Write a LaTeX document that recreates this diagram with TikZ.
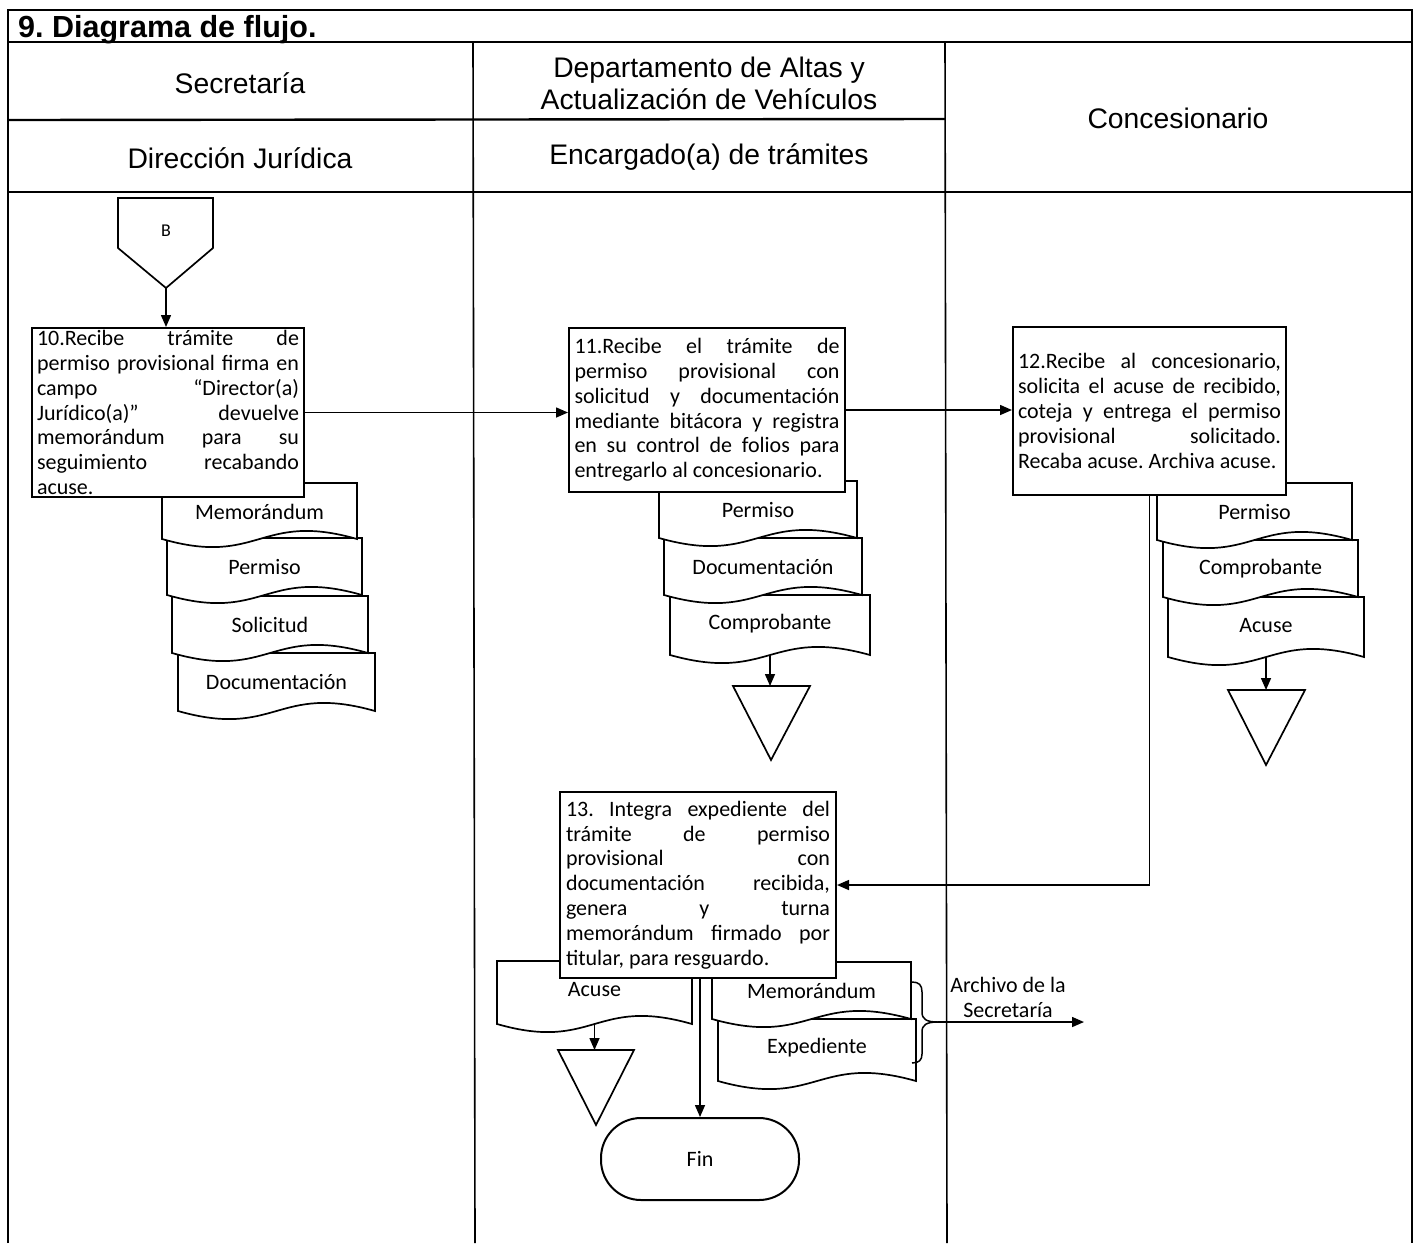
\documentclass[tikz,border=0pt]{standalone}
\usepackage{fontspec}
\setmainfont{Carlito}
\newfontfamily\hfont{Liberation Sans}
\usetikzlibrary{arrows.meta,calc}
\frenchspacing

\newcommand\docshape[6]{% name, x0, ytop, w, h, label
  \draw[docline] ({#2},{#3}) -- ({#2+#4},{#3}) -- ({#2+#4},{#3+#5})
    .. controls ({#2+0.5*#4},{#3+#5-28}) and ({#2+0.5*#4},{#3+#5+28}) .. ({#2},{#3+#5}) -- cycle;
  \node[doclabel] (#1) at ({#2+0.5*#4},{#3+29}) {#6};
  \coordinate (#1-b) at ({#2+0.5*#4},{#3+#5});
}

\begin{document}
\begin{tikzpicture}[x=1pt,y=-1pt,
  frame/.style={line width=2.4pt},
  lane/.style={line width=1.6pt},
  box/.style={draw, line width=2pt, fill=white, inner sep=0pt, rectangle},
  boxtext/.style={inner sep=0pt, align=justify, font=\fontsize{22}{24.8}\selectfont},
  docline/.style={draw, fill=white, line width=1.7pt},
  doclabel/.style={inner sep=0pt, font=\fontsize{22}{26}\selectfont},
  shapeline/.style={draw, fill=white, line width=1.7pt},
  arr/.style={line width=1.5pt, -{Triangle[length=12pt,width=10pt]}},
  conn/.style={line width=1.5pt},
  hdr/.style={font=\hfont\fontsize{28.3}{32}\selectfont, align=center, inner sep=0pt},
]
\useasboundingbox (0,0) rectangle (1420,1243);

% ---------- frame ----------
\draw[frame] (8,1243) -- (8,10) -- (1412,10) -- (1412,1243);
\draw[frame] (8,42) -- (1412,42);
\draw[frame] (8,120) -- (945,119);
\draw[frame] (8,192) -- (1412,192);
\draw[lane] (473,42) -- (475,1243);
\draw[lane] (945,42) -- (947,1243);

\node[anchor=west, inner sep=0pt, font=\hfont\bfseries\fontsize{30.5}{32}\selectfont] (title) at (18,30) {9. Diagrama de flujo.};
\node[hdr] (h1) at (240,83) {Secretaría};
\node[hdr] (h2) at (709,83) {Departamento de Altas y\\Actualización de Vehículos};
\node[hdr] (h3) at (240,158) {Dirección Jurídica};
\node[hdr] (h4) at (709,157) {Encargado(a) de trámites};
\node[hdr] (h5) at (1178,118) {Concesionario};

% ---------- column 1 ----------
\draw[shapeline] (118,198) -- (213,198) -- (213,248) -- (166,288) -- (118,248) -- cycle;
\node[inner sep=0pt, font=\fontsize{18}{20}\selectfont] (B) at (166,231) {B};
\coordinate (Bp) at (166,288);

\docshape{d1d}{178}{653}{197}{58}{Documentación}
\docshape{d1c}{172}{596}{196}{57}{Solicitud}
\docshape{d1b}{167}{538}{195}{57}{Permiso}
\docshape{d1a}{162}{483}{195}{56}{Memorándum}

\node[box, minimum width=272pt, minimum height=169pt] (b10) at (168,412.5) {};
\node[boxtext, text width=262pt] (t10) at (b10.center) {10.Recibe trámite de\linebreak permiso provisional firma en\linebreak campo “Director(a)\linebreak Jurídico(a)” devuelve\linebreak memorándum para su\linebreak seguimiento recabando\linebreak acuse.};

\draw[arr] (Bp) -- (b10.north -| Bp);

% ---------- column 2 ----------
\docshape{d2c}{670}{595}{200}{60}{Comprobante}
\docshape{d2b}{664}{538}{198}{57}{Documentación}
\docshape{d2a}{659}{481}{198}{57}{Permiso}

\node[box, minimum width=276pt, minimum height=164pt] (b11) at (707,410) {};
\node[boxtext, text width=265pt] (t11) at (b11.center) {11.Recibe el trámite de\linebreak permiso provisional con\linebreak solicitud y documentación\linebreak mediante bitácora y registra\linebreak en su control de folios para\linebreak entregarlo al concesionario.};

\draw[shapeline] (733,686) -- (810,686) -- (771,760) -- cycle;
\coordinate (tr2) at (771,686);
\draw[arr] (d2c-b) -- (d2c-b |- tr2);

% ---------- column 3 ----------
\docshape{d3c}{1168}{597}{196}{60}{Acuse}
\docshape{d3b}{1163}{540}{195}{57}{Comprobante}
\docshape{d3a}{1157}{483}{195}{57}{Permiso}

\node[box, minimum width=273pt, minimum height=168pt] (b12) at (1149.5,411) {};
\node[boxtext, text width=263pt] (t12) at (b12.center) {12.Recibe al concesionario,\linebreak solicita el acuse de recibido,\linebreak coteja y entrega el permiso\linebreak provisional solicitado.\linebreak Recaba acuse. Archiva acuse.};

\draw[shapeline] (1228,690) -- (1305,690) -- (1266,765) -- cycle;
\coordinate (tr3) at (1266,690);
\draw[arr] (d3c-b) -- (d3c-b |- tr3);

% ---------- step 13 ----------
\docshape{d4a}{497}{961}{195}{63}{Acuse}
\docshape{d4c}{718}{1019}{198}{62}{Expediente}
\docshape{d4b}{712}{962}{199}{57}{Memorándum}

\node[box, minimum width=276pt, minimum height=186pt] (b13) at (698,885) {};
\node[boxtext, text width=264pt] (t13) at (b13.center) {13. Integra expediente del\linebreak trámite de permiso\linebreak provisional con\linebreak documentación recibida,\linebreak genera y turna\linebreak memorándum firmado por\linebreak titular, para resguardo.};

\draw[shapeline] (558,1050) -- (634,1050) -- (596,1125) -- cycle;
\coordinate (tr4) at (596,1050);
\draw[arr] (d4a-b) -- (d4a-b |- tr4);

\node[draw, line width=2pt, minimum width=198pt, minimum height=82pt, rounded corners=40pt, inner sep=0pt, font=\fontsize{22}{26}\selectfont] (fin) at (700,1159) {Fin};

% brace
\draw[conn] (912,982) .. controls (919,982) and (922,985) .. (922,992) -- (922,1012) .. controls (922,1019) and (926,1022) .. (938,1022);
\draw[conn] (938,1022) .. controls (926,1022) and (922,1025) .. (922,1032) -- (922,1054) .. controls (922,1060) and (919,1063) .. (912,1063);
\coordinate (brtip) at (938,1022);
\coordinate (archend) at (1084,1022);
\draw[arr] (brtip) -- (archend);
\node[inner sep=0pt, align=center, font=\fontsize{22}{25}\selectfont] (arch) at (1008,997) {Archivo de la\\Secretaría};

% ---------- connectors ----------
\draw[arr] (b10.east) -- (b11.west |- b10.east);
\draw[arr] (b11.east) -- (b12.west |- b11.east);
\draw[arr] (b12.south) |- (b13.east);
\draw[arr] (fin.north |- b13.south) -- (fin.north);
\end{tikzpicture}
\end{document}
